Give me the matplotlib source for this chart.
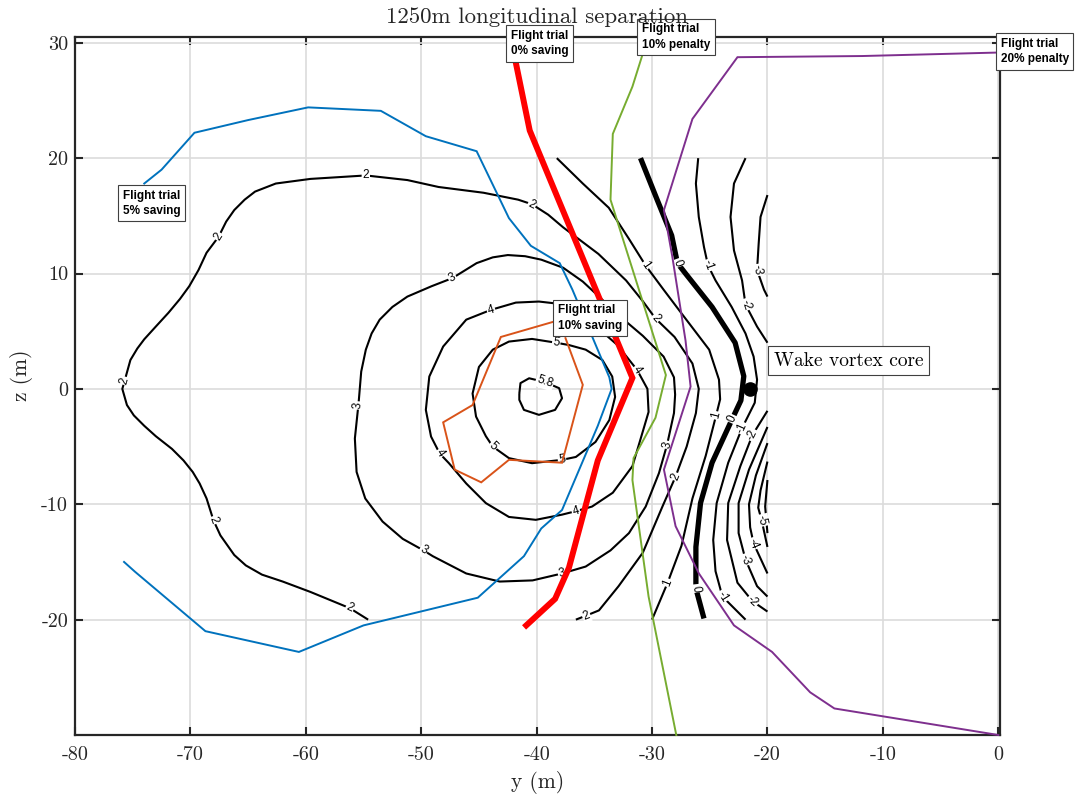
import matplotlib
matplotlib.use("Agg")
import matplotlib.pyplot as plt
import numpy as np

plt.rcParams['axes.unicode_minus'] = False

# ---------------- data ----------------
x_ticks = [-80, -70, -60, -50, -40, -30, -20, -10, 0]
z_ticks = [-20, -10, 0, 10, 20, 30]

# flight-trial boundary lines (y, z)
trial_5_saving = [(-74.0, 17.8), (-72.5, 19.0), (-69.65, 22.2), (-65.0, 23.3), (-59.8, 24.4),
                  (-53.5, 24.1), (-49.6, 21.9), (-45.2, 20.6), (-42.4, 14.8), (-40.5, 12.4),
                  (-38.0, 10.9), (-36.9, 8.6), (-33.7, 1.0), (-33.5, 0.0), (-34.7, -3.2),
                  (-37.8, -10.5), (-39.6, -12.1), (-41.1, -14.5), (-45.1, -18.1), (-55.0, -20.5),
                  (-60.6, -22.8), (-68.7, -21.0), (-74.8, -15.85), (-75.75, -15.0)]
trial_0_saving = [(-41.85, 28.5), (-40.6, 22.4), (-31.7, 0.95), (-34.7, -6.2), (-37.2, -15.5),
                  (-38.4, -18.2), (-40.9, -20.5)]
trial_10_penalty = [(-30.85, 28.9), (-31.7, 26.2), (-33.4, 22.1), (-33.6, 16.4), (-28.8, 1.2),
                    (-29.7, -2.5), (-31.6, -6.0), (-31.7, -7.9), (-30.3, -18.0), (-27.9, -30.0)]
trial_20_penalty = [(-0.12, 29.15), (-11.8, 28.85), (-22.6, 28.75), (-26.5, 23.4), (-28.97, 15.5),
                    (-28.25, 11.5), (-27.1, 4.2), (-26.66, 0.2), (-28.97, -7.0), (-27.96, -11.9),
                    (-25.94, -16.0), (-22.9, -20.5), (-19.6, -22.8), (-16.3, -26.3), (-14.2, -27.7),
                    (0.0, -30.0)]
trial_10_saving = [(-38.5, 5.83), (-43.1, 4.5), (-45.55, -1.4), (-48.1, -2.9), (-47.1, -7.0),
                   (-44.8, -8.1), (-42.4, -6.15), (-37.8, -6.4), (-36.0, 0.35), (-37.5, 4.4)]

# contour lines of the wake field (y, z)
contour_2 = [(-54.6, -20.0), (-56.2, -19.0), (-59.6, -17.6), (-62.0, -16.7), (-63.8, -16.1),
             (-65.2, -15.3), (-66.2, -14.4), (-67.4, -12.7), (-68.0, -11.4), (-68.6, -9.5),
             (-69.2, -8.2), (-69.8, -7.2), (-70.6, -6.2), (-71.6, -5.2), (-73.0, -4.1),
             (-74.0, -3.2), (-74.9, -2.3), (-75.5, -1.4), (-75.9, 0.0), (-75.7, 0.7),
             (-75.2, 2.5), (-74.6, 3.5), (-74.0, 4.3), (-73.0, 5.4), (-71.9, 6.6), (-70.9, 7.8),
             (-70.1, 8.9), (-69.3, 10.3), (-68.6, 11.8), (-67.55, 13.2), (-66.9, 14.5),
             (-66.2, 15.5), (-65.3, 16.4), (-64.4, 17.1), (-62.6, 17.8), (-59.6, 18.2),
             (-54.8, 18.5), (-51.2, 18.1), (-48.5, 17.5), (-44.6, 17.0), (-41.6, 16.4),
             (-40.4, 16.0), (-39.0, 15.1), (-37.7, 14.0), (-34.65, 11.7), (-32.25, 9.4),
             (-30.8, 7.6), (-29.7, 6.1), (-28.05, 4.5), (-26.5, 2.2), (-25.95, 0.0),
             (-26.2, -2.1), (-27.0, -5.0), (-27.96, -7.6), (-29.1, -10.2), (-30.8, -14.2),
             (-32.9, -17.1), (-34.6, -19.2), (-35.7, -19.65), (-36.6, -20.0)]
labels_2 = [(-56.2, -19.0), (-68.0, -11.4), (-75.7, 0.7), (-67.55, 13.2), (-54.8, 18.5),
            (-40.4, 16.0), (-29.7, 6.1), (-27.96, -7.6), (-35.7, -19.65)]

contour_3 = [(-55.45, -1.44), (-55.4, -0.9), (-55.2, 1.5), (-54.8, 3.4), (-54.3, 4.8),
             (-53.6, 6.0), (-52.5, 7.1), (-51.2, 8.0), (-49.1, 8.9), (-47.3, 9.6), (-45.2, 10.9),
             (-43.8, 11.4), (-42.5, 11.6), (-41.0, 11.5), (-39.6, 11.2), (-37.7, 10.5),
             (-36.0, 9.3), (-34.6, 8.0), (-32.8, 6.3), (-30.8, 4.6), (-29.0, 2.8), (-28.1, 1.0),
             (-28.0, -0.5), (-28.1, -2.1), (-28.7, -4.85), (-29.4, -7.3), (-30.55, -10.2),
             (-32.0, -12.5), (-33.6, -14.0), (-35.75, -15.4), (-37.8, -16.0), (-40.35, -16.6),
             (-43.2, -16.7), (-46.1, -16.0), (-49.0, -14.5), (-49.8, -14.0), (-51.6, -13.0),
             (-53.35, -11.5), (-54.85, -9.5), (-55.6, -7.2), (-55.75, -4.3), (-55.45, -1.44)]
labels_3 = [(-55.45, -1.44), (-47.3, 9.6), (-28.7, -4.85), (-37.8, -16.0), (-49.8, -14.0)]

contour_4 = [(-43.96, 6.85), (-41.8, 7.48), (-39.8, 7.57), (-38.3, 7.4), (-36.5, 6.6), (-34.6, 5.2),
             (-33.0, 3.8), (-31.3, 1.65), (-30.4, 0.0), (-30.3, -2.0), (-31.1, -4.7), (-31.7, -6.7),
             (-33.4, -9.0), (-35.2, -10.2), (-36.6, -10.6), (-37.8, -10.9), (-40.07, -11.35),
             (-42.4, -11.1), (-44.4, -9.9), (-46.1, -8.2), (-47.6, -6.44), (-48.4, -5.6),
             (-49.15, -4.13), (-49.6, -1.82), (-49.3, 1.07), (-48.1, 3.67), (-46.1, 6.0),
             (-43.96, 6.85)]
labels_4 = [(-43.96, 6.85), (-31.3, 1.65), (-36.6, -10.6), (-48.4, -5.6)]

contour_5 = [(-38.3, 4.0), (-40.4, 4.33), (-42.4, 4.1), (-43.8, 3.4), (-45.0, 1.9), (-45.55, -0.4),
             (-45.25, -2.4), (-44.4, -4.1), (-43.8, -5.0), (-42.4, -6.0), (-40.4, -6.44),
             (-37.8, -6.15), (-36.6, -5.9), (-34.9, -4.6), (-33.7, -2.7), (-33.2, -0.7),
             (-33.45, 1.07), (-34.3, 2.5), (-35.75, 3.4), (-37.2, 3.8), (-38.3, 4.0)]
labels_5 = [(-38.3, 4.0), (-43.8, -5.0), (-37.8, -6.15)]

contour_5_8 = [(-41.5, -0.4), (-41.4, 0.5), (-40.65, 0.92), (-39.3, 0.6), (-38.05, 0.06),
               (-37.8, -0.81), (-38.4, -1.82), (-39.8, -2.25), (-41.1, -1.82), (-41.5, -0.95),
               (-41.5, -0.4)]
labels_5_8 = [(-39.3, 0.6)]

contour_1 = [(-38.25, 20.0), (-36.0, 17.8), (-33.75, 15.7), (-32.0, 13.0), (-30.56, 10.7),
             (-29.0, 8.6), (-27.45, 6.55), (-25.05, 3.4), (-24.2, 0.8), (-24.1, -0.9),
             (-24.45, -2.3), (-25.35, -5.8), (-26.5, -9.5), (-27.45, -13.6), (-28.65, -16.8),
             (-30.0, -20.0)]
labels_1 = [(-30.56, 10.7), (-24.45, -2.3), (-28.65, -16.8)]

contour_0 = [(-31.0, 20.0), (-29.6, 16.5), (-28.3, 13.3), (-27.8, 10.9), (-27.1, 10.0),
             (-24.8, 7.1), (-22.8, 4.0), (-22.05, 1.1), (-22.3, -1.0), (-23.05, -2.6),
             (-24.8, -6.4), (-25.8, -9.9), (-26.2, -13.7), (-26.2, -17.3), (-25.5, -19.9)]
labels_0 = [(-27.8, 10.9), (-23.05, -2.6), (-26.2, -17.3)]

contour_m1 = [(-26.0, 20.0), (-26.2, 17.8), (-25.95, 14.9), (-25.5, 12.3), (-25.15, 10.7),
              (-24.5, 9.4), (-23.1, 7.1), (-21.9, 4.8), (-21.2, 2.8), (-20.9, 0.8), (-21.1, -1.2),
              (-22.2, -3.4), (-23.4, -6.4), (-24.4, -9.9), (-24.7, -13.1), (-24.5, -15.8),
              (-23.9, -18.0), (-21.9, -20.0)]
labels_m1 = [(-25.15, 10.7), (-22.2, -3.4), (-23.9, -18.0)]

contour_m2_top = [(-21.9, 20.0), (-22.9, 17.8), (-23.2, 14.9), (-22.9, 12.0), (-22.2, 9.4),
                  (-21.9, 7.3), (-20.9, 5.4), (-20.0, 4.0)]
contour_m2_bot = [(-20.0, -1.9), (-21.3, -4.0), (-22.35, -6.7), (-23.4, -9.9), (-23.5, -13.1),
                  (-22.6, -16.8), (-21.3, -18.4), (-20.0, -19.3)]
labels_m2 = [(-21.9, 7.3), (-21.3, -4.0), (-21.3, -18.4)]

contour_m3_top = [(-20.0, 16.8), (-20.6, 14.9), (-20.76, 12.6), (-20.9, 10.3), (-20.3, 8.6),
                  (-20.0, 8.0)]
contour_m3_bot = [(-20.0, -3.3), (-21.6, -7.0), (-22.5, -9.9), (-22.5, -12.5), (-21.9, -14.8),
                  (-20.9, -17.1), (-20.0, -18.0)]
labels_m3 = [(-20.9, 10.3), (-21.9, -14.8)]

contour_m4 = [(-20.0, -4.7), (-21.0, -7.5), (-21.6, -10.0), (-21.5, -12.0), (-21.2, -13.4),
              (-20.0, -16.0)]
labels_m4 = [(-21.2, -13.4)]

contour_m5 = [(-20.0, -6.3), (-20.6, -8.8), (-20.8, -10.3), (-20.5, -11.4), (-20.0, -13.7)]
labels_m5 = [(-20.5, -11.4)]

contour_m6 = [(-20.0, -7.9), (-20.2, -10.2), (-20.0, -12.5)]

vortex_core = (-21.5, 0.0)

# ---------------- figure ----------------
W, H = 1075, 797
fig = plt.figure(figsize=(W / 100, H / 100), dpi=100)
ax = fig.add_axes([75 / W, (H - 735) / H, 925 / W, (735 - 37) / H])
ax.set_xlim(-80, 0.15)
ax.set_ylim(-30, 30.5)

ax.set_xticks(x_ticks)
ax.set_yticks(z_ticks)
ax.set_xticklabels([str(t) for t in x_ticks], family='cmr10', fontsize=14.5)
ax.set_yticklabels([str(t) for t in z_ticks], family='cmr10', fontsize=14.5)
ax.tick_params(axis='both', direction='in', length=6, width=1.5, color='#262626',
               top=True, right=True, labelcolor='#262626')
ax.tick_params(axis='x', pad=8)
ax.tick_params(axis='y', pad=5)
for s in ax.spines.values():
    s.set_linewidth(1.6)
    s.set_color('#262626')
ax.grid(True, color='#dcdcdc', lw=1.2)
ax.set_axisbelow(True)

label_font = dict(family='Liberation Sans', fontsize=8.5, color='black')


def label_angle(pts, x, z):
    P = ax.transData.transform(np.array(pts))
    q = ax.transData.transform((x, z))
    d = np.hypot(P[:, 0] - q[0], P[:, 1] - q[1])
    i = int(np.argmin(d))
    i0 = max(i - 1, 0)
    i1 = min(i + 1, len(P) - 1)
    dx, dy = P[i1] - P[i0]
    a = np.degrees(np.arctan2(dy, dx))
    if a > 90:
        a -= 180
    if a <= -90:
        a += 180
    return a


def draw_contour(pts, lw=1.5):
    arr = np.array(pts)
    ax.plot(arr[:, 0], arr[:, 1], color='black', lw=lw, zorder=2, solid_capstyle='butt',
            solid_joinstyle='round')


def draw_labels(pts, labels, text):
    for (x, z) in labels:
        a = label_angle(pts, x, z)
        ax.text(x, z, text, rotation=a, rotation_mode='anchor', ha='center', va='center',
                zorder=2.5, bbox=dict(boxstyle='square,pad=0.08', fc='white', ec='none'),
                **label_font)


contours = [
    (contour_2, labels_2, '2', 1.5),
    (contour_3, labels_3, '3', 1.5),
    (contour_4, labels_4, '4', 1.5),
    (contour_5, labels_5, '5', 1.5),
    (contour_5_8, labels_5_8, '5.8', 1.5),
    (contour_1, labels_1, '1', 1.5),
    (contour_0, labels_0, '0', 3.8),
    (contour_m1, labels_m1, '-1', 1.5),
    (contour_m2_top, labels_m2[:1], '-2', 1.5),
    (contour_m2_bot, labels_m2[1:], '-2', 1.5),
    (contour_m3_top, labels_m3[:1], '-3', 1.5),
    (contour_m3_bot, labels_m3[1:], '-3', 1.5),
    (contour_m4, labels_m4, '-4', 1.5),
    (contour_m5, labels_m5, '-5', 1.5),
    (contour_m6, [], '', 1.5),
]
for pts, labs, txt, lw in contours:
    draw_contour(pts, lw)
for pts, labs, txt, lw in contours:
    draw_labels(pts, labs, txt)

# flight-trial lines
trials = [
    (trial_5_saving, '#0072BD', 1.4),
    (trial_10_saving, '#D95319', 1.4),
    (trial_10_penalty, '#77AC30', 1.4),
    (trial_20_penalty, '#7E2F8E', 1.4),
    (trial_0_saving, '#FF0000', 4.3),
]
for pts, col, lw in trials:
    arr = np.array(pts)
    ax.plot(arr[:, 0], arr[:, 1], color=col, lw=lw, zorder=3, clip_on=False,
            solid_joinstyle='miter')

ax.plot([vortex_core[0]], [vortex_core[1]], 'o', color='black', ms=9.5, zorder=4)

# boxes
box_style = dict(boxstyle='square,pad=0.4', fc='white', ec='#404040', lw=0.8)
boxes = [
    (-42.25, 29.95, 'Flight trial\n0% saving'),
    (-30.9, 30.5, 'Flight trial\n10% penalty'),
    (0.2, 29.25, 'Flight trial\n20% penalty'),
    (-75.85, 16.1, 'Flight trial\n5% saving'),
    (-38.15, 6.15, 'Flight trial\n10% saving'),
]
for x, z, t in boxes:
    ax.text(x, z, t, family='Liberation Sans', fontsize=8.5, fontweight='bold', ha='left',
            va='center', linespacing=1.35, bbox=box_style, zorder=6, clip_on=False)

ax.text(-19.45, 2.45, 'Wake vortex core', family='cmr10', fontsize=14, ha='left', va='center',
        zorder=6, bbox=dict(boxstyle='square,pad=0.3', fc='white', ec='#404040', lw=0.8))

fig.text(537.5 / W, 1 - 17 / H, '1250m longitudinal separation', family='cmr10', fontsize=16.5,
         ha='center', va='center', color='#262626')
fig.text(537.5 / W, 1 - 783 / H, 'y (m)', family='cmr10', fontsize=15.5, ha='center', va='center',
         color='#262626')
fig.text(22 / W, 1 - 375 / H, 'z (m)', family='cmr10', fontsize=15.5, ha='center', va='center',
         rotation=90, color='#262626')

fig.savefig('out.png', dpi=100)
